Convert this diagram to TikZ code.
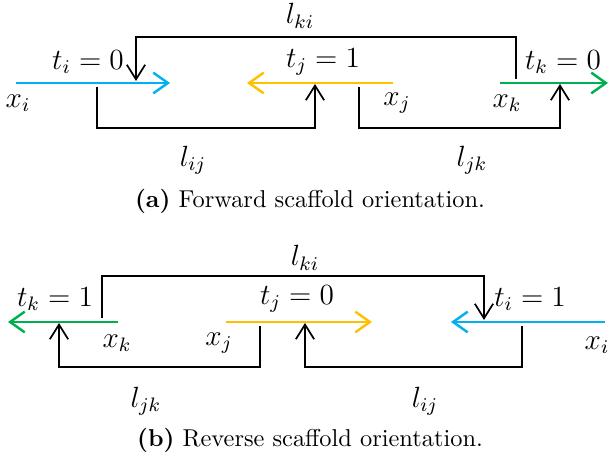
\documentclass[tikz,border=0pt]{standalone}
\usetikzlibrary{arrows.meta}
\definecolor{cblue}{RGB}{0,176,240}
\definecolor{corange}{RGB}{255,192,0}
\definecolor{cgreen}{RGB}{0,176,80}
\tikzset{
  contig/.style={line width=1pt,-{Straight Barb[length=6pt,width=8.5pt]}},
  linkarrow/.style={line width=0.7pt,black,-{Straight Barb[length=6pt,width=7.5pt]}},
  lab/.style={inner sep=0pt,font=\large},
  captext/.style={inner sep=0pt,font=\normalsize}
}
\begin{document}
\begin{tikzpicture}[x=0.41pt,y=-0.41pt]
\useasboundingbox (0,0) rectangle (610,462);
% ---------- panel (a) ----------
\coordinate (bi0) at (16,83);  \coordinate (bi1) at (170,83);
\coordinate (oj0) at (393,83); \coordinate (oj1) at (247,83);
\coordinate (gk0) at (500,83); \coordinate (gk1) at (608,83);
\draw[contig,cblue] (bi0) -- (bi1);
\draw[contig,corange] (oj0) -- (oj1);
\draw[contig,cgreen] (gk0) -- (gk1);
% l_ki
\coordinate (kiA) at (516,79); \coordinate (kiT) at (136,81);
\draw[linkarrow] (kiA) |- (136,37) -- (kiT);
% l_ij
\coordinate (ijA) at (97,87); \coordinate (ijT) at (315,84);
\draw[linkarrow] (ijA) |- (315,128) -- (ijT);
% l_jk
\coordinate (jkA) at (359,87); \coordinate (jkT) at (560,84);
\draw[linkarrow] (jkA) |- (560,128) -- (jkT);
\node[lab] (ti) at (88,62) {$t_i = 0$};
\node[lab] (tj) at (323,62) {$t_j = 1$};
\node[lab] (tk) at (563,62) {$t_k = 0$};
\node[lab] (xi) at (18,103) {$x_i$};
\node[lab] (xj) at (397,103) {$x_j$};
\node[lab] (xk) at (507,103) {$x_k$};
\node[lab] (lki) at (300,16) {$l_{ki}$};
\node[lab] (lij) at (193,160) {$l_{ij}$};
\node[lab] (ljk) at (472,160) {$l_{jk}$};
\node[captext] (capa) at (310,201) {\textbf{(a)} Forward scaffold orientation.};
% ---------- panel (b) ----------
\coordinate (gb0) at (118,322); \coordinate (gb1) at (8,322);
\coordinate (ob0) at (226,322); \coordinate (ob1) at (372,322);
\coordinate (bb0) at (605,322); \coordinate (bb1) at (451,322);
\draw[contig,cgreen] (gb0) -- (gb1);
\draw[contig,corange] (ob0) -- (ob1);
\draw[contig,cblue] (bb0) -- (bb1);
\coordinate (kiB) at (102,318); \coordinate (kiBT) at (484,320);
\draw[linkarrow] (kiB) |- (484,276) -- (kiBT);
\coordinate (jkB) at (260,326); \coordinate (jkBT) at (59,323);
\draw[linkarrow] (jkB) |- (59,367) -- (jkBT);
\coordinate (ijB) at (522,326); \coordinate (ijBT) at (305,323);
\draw[linkarrow] (ijB) |- (305,367) -- (ijBT);
\node[lab] (tkb) at (55,299) {$t_k = 1$};
\node[lab] (tjb) at (297,299) {$t_j = 0$};
\node[lab] (tib) at (530,299) {$t_i = 1$};
\node[lab] (xkb) at (117,343) {$x_k$};
\node[lab] (xjb) at (219,343) {$x_j$};
\node[lab] (xib) at (597,345) {$x_i$};
\node[lab] (lkib) at (305,258) {$l_{ki}$};
\node[lab] (ljkb) at (146,401) {$l_{jk}$};
\node[lab] (lijb) at (425,401) {$l_{ij}$};
\node[captext] (capb) at (310,440) {\textbf{(b)} Reverse scaffold orientation.};
\end{tikzpicture}
\end{document}
